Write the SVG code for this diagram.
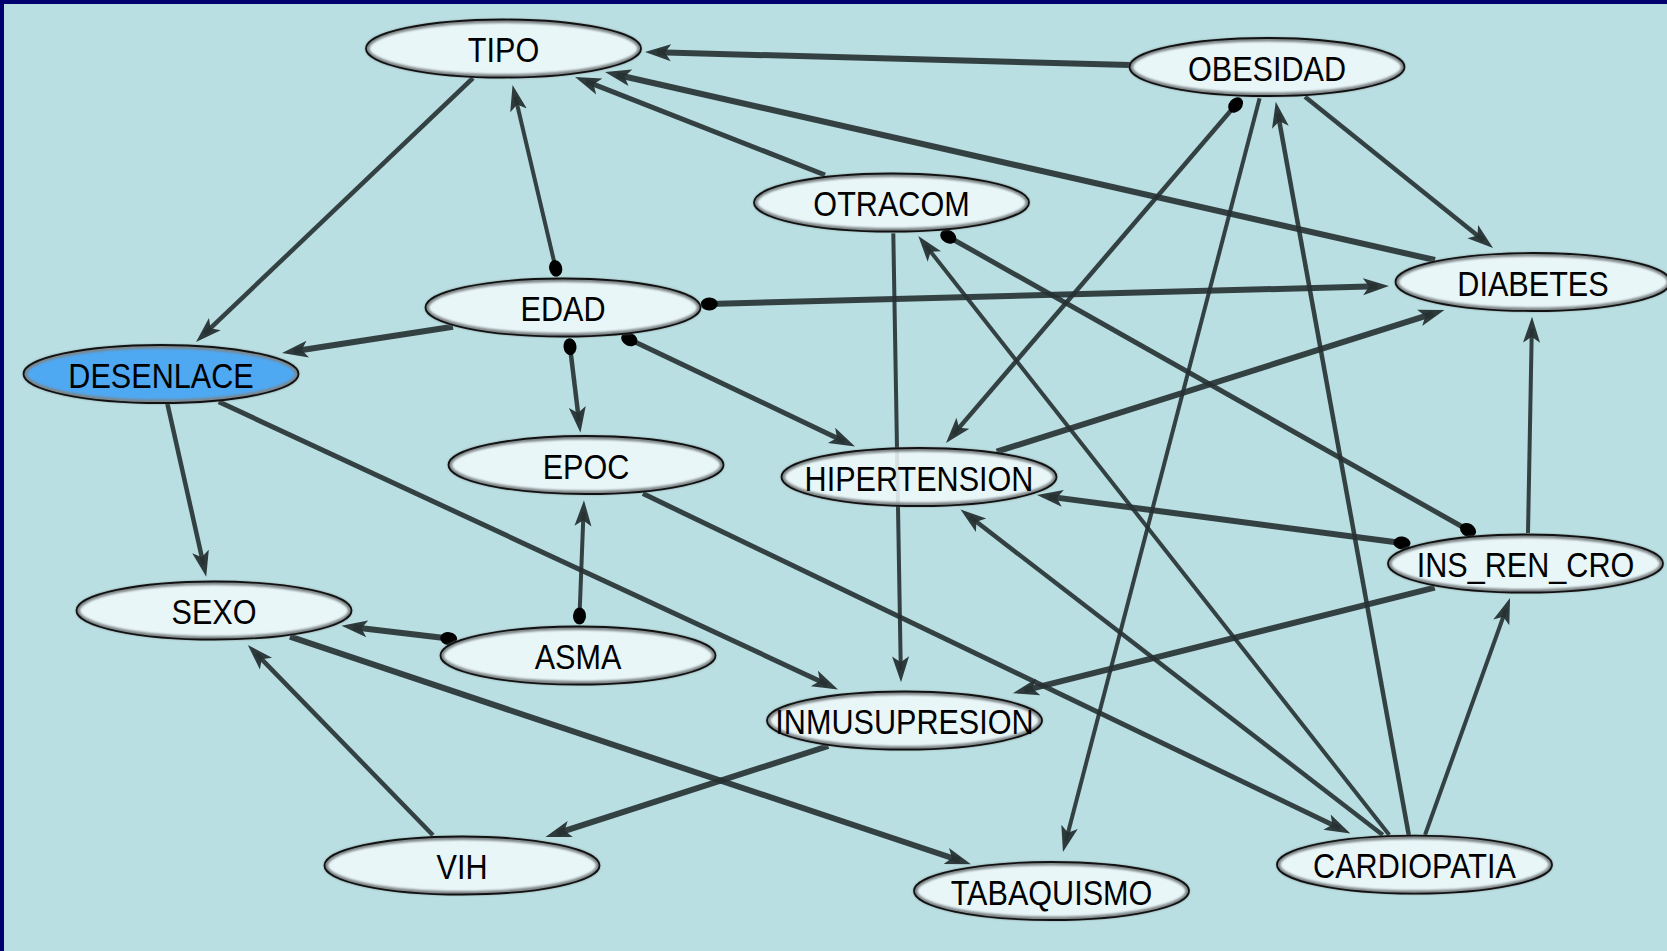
<svg xmlns="http://www.w3.org/2000/svg" width="1667" height="951" viewBox="0 0 1667 951">
  <defs>
    <style>
      .edge { fill: none; stroke: #263032; stroke-opacity: 0.9; }
      .w4 { stroke-width: 4; }
      .w45 { stroke-width: 4.5; }
      .w5 { stroke-width: 5; }
      .w6 { stroke-width: 6; }
      .arr { marker-end: url(#arrow); }
      .tdot { marker-start: url(#dot); }
      .hdot { marker-end: url(#dot); }
      .body { fill: #f1f9fb; fill-opacity: 0.86; }
      .body.out { fill: #4ea8f2; fill-opacity: 1; }
      .ring { fill: none; stroke: #7d8486; stroke-width: 4; filter: url(#soft); }
      .rim { fill: none; stroke: #111; stroke-width: 1.8; }
      text { font-family: "Liberation Sans", Arial, sans-serif; font-size: 36px; text-anchor: middle; fill: #000; }
    </style>
    <filter id="soft" x="-10%" y="-30%" width="120%" height="160%">
      <feGaussianBlur stdDeviation="1.3"/>
    </filter>
    <marker id="arrow" markerUnits="userSpaceOnUse" markerWidth="30" markerHeight="20" viewBox="0 -10 30 20" refX="14" refY="0" orient="auto">
      <path d="M26,0 L0,-8.5 L6,0 L0,8.5 Z" fill="#263032" fill-opacity="0.95"/>
    </marker>
    <marker id="dot" markerUnits="userSpaceOnUse" markerWidth="20" markerHeight="16" viewBox="-10 -8 20 16" refX="0" refY="0" orient="auto">
      <ellipse rx="8.5" ry="6.5" fill="#000"/>
    </marker>
  </defs>

  <!-- canvas -->
  <rect x="0" y="0" width="1667" height="951" fill="#b9dfe2"/>
  <rect x="0" y="0" width="1667" height="4" fill="#00006e"/>
  <rect x="0" y="0" width="4" height="951" fill="#00006e"/>

  <g id="edges">
    <path class="edge w6 arr" d="M1130,65 L657,52.3"/>
    <path class="edge w6 arr" d="M1435,260 L616.7,74.7"/>
    <path class="edge w5 arr" d="M825,175 L586.2,81.4"/>
    <path class="edge w45 arr" d="M473,78 L204.7,333.7"/>
    <path class="edge w4 tdot arr" d="M555.7,268.3 L515.3,96.7"/>
    <path class="edge w6 arr" d="M453,326.7 L293.9,351.2"/>
    <path class="edge w6 tdot arr" d="M709.3,304 L1377,286.3"/>
    <path class="edge w45 tdot arr" d="M570,346.7 L579,420.9"/>
    <path class="edge w5 tdot arr" d="M629.3,339.3 L844.2,441.4"/>
    <path class="edge w45 arr" d="M1305,96.7 L1483.7,240.5"/>
    <path class="edge w45 tdot arr" d="M1235.6,105 L953.8,433.9"/>
    <path class="edge w4 arr" d="M1259.6,98.3 L1066,840.4"/>
    <path class="edge w45 arr" d="M1408.8,835.2 L1277.9,113.5"/>
    <path class="edge w4 arr" d="M893.3,233.3 L900.8,670.3"/>
    <path class="edge w4 arr" d="M1389.3,835 L925.7,245.4"/>
    <path class="edge w5 tdot hdot" d="M948.3,236.7 L1468,530"/>
    <path class="edge w6 tdot arr" d="M1402,543 L1048.9,496.6"/>
    <path class="edge w6 arr" d="M996.7,451.7 L1433,313.6"/>
    <path class="edge w4 arr" d="M1528,533 L1531.8,328.7"/>
    <path class="edge w4 arr" d="M1425,835 L1506,609.3"/>
    <path class="edge w6 arr" d="M1434.7,587.6 L1024.6,690.3"/>
    <path class="edge w45 arr" d="M1382.8,835 L970,516.8"/>
    <path class="edge w5 arr" d="M642.9,493.6 L1339.6,828.2"/>
    <path class="edge w5 arr" d="M218.75,401.8 L827.1,684.4"/>
    <path class="edge w45 arr" d="M167.4,403.7 L203.6,565"/>
    <path class="edge w4 tdot arr" d="M579.5,616 L583.5,512.2"/>
    <path class="edge w6 tdot arr" d="M448.7,638.6 L353.4,627.2"/>
    <path class="edge w6 arr" d="M290,636.7 L959.6,860.5"/>
    <path class="edge w45 arr" d="M433,835.2 L256.2,653.6"/>
    <path class="edge w6 arr" d="M828.3,746 L556.9,833.3"/>
  </g>

  <g id="node-tipo">
    <ellipse class="body" cx="503.5" cy="48.5" rx="137.5" ry="29"/>
    <ellipse class="ring" cx="503.5" cy="48.5" rx="136" ry="27.5"/>
    <ellipse class="rim" cx="503.5" cy="48.5" rx="137.5" ry="29"/>
    <text transform="translate(503.5,62) scale(0.85,1)">TIPO</text>
  </g>
  <g id="node-obesidad">
    <ellipse class="body" cx="1267" cy="67" rx="137.5" ry="29"/>
    <ellipse class="ring" cx="1267" cy="67" rx="136" ry="27.5"/>
    <ellipse class="rim" cx="1267" cy="67" rx="137.5" ry="29"/>
    <text transform="translate(1267,80.5) scale(0.85,1)">OBESIDAD</text>
  </g>
  <g id="node-otracom">
    <ellipse class="body" cx="891.5" cy="202.5" rx="137.5" ry="29"/>
    <ellipse class="ring" cx="891.5" cy="202.5" rx="136" ry="27.5"/>
    <ellipse class="rim" cx="891.5" cy="202.5" rx="137.5" ry="29"/>
    <text transform="translate(891.5,216) scale(0.85,1)">OTRACOM</text>
  </g>
  <g id="node-diabetes">
    <ellipse class="body" cx="1533" cy="282" rx="137.5" ry="29"/>
    <ellipse class="ring" cx="1533" cy="282" rx="136" ry="27.5"/>
    <ellipse class="rim" cx="1533" cy="282" rx="137.5" ry="29"/>
    <text transform="translate(1533,295.5) scale(0.85,1)">DIABETES</text>
  </g>
  <g id="node-edad">
    <ellipse class="body" cx="563" cy="307.5" rx="137.5" ry="29"/>
    <ellipse class="ring" cx="563" cy="307.5" rx="136" ry="27.5"/>
    <ellipse class="rim" cx="563" cy="307.5" rx="137.5" ry="29"/>
    <text transform="translate(563,321) scale(0.85,1)">EDAD</text>
  </g>
  <g id="node-desenlace">
    <ellipse class="body out" cx="161" cy="374" rx="137.5" ry="29"/>
    <ellipse class="ring" cx="161" cy="374" rx="136" ry="27.5"/>
    <ellipse class="rim" cx="161" cy="374" rx="137.5" ry="29"/>
    <text transform="translate(161,387.5) scale(0.85,1)">DESENLACE</text>
  </g>
  <g id="node-epoc">
    <ellipse class="body" cx="586" cy="465" rx="137.5" ry="29"/>
    <ellipse class="ring" cx="586" cy="465" rx="136" ry="27.5"/>
    <ellipse class="rim" cx="586" cy="465" rx="137.5" ry="29"/>
    <text transform="translate(586,478.5) scale(0.85,1)">EPOC</text>
  </g>
  <g id="node-hipertension">
    <ellipse class="body" cx="919" cy="477" rx="137.5" ry="29"/>
    <ellipse class="ring" cx="919" cy="477" rx="136" ry="27.5"/>
    <ellipse class="rim" cx="919" cy="477" rx="137.5" ry="29"/>
    <text transform="translate(919,490.5) scale(0.85,1)">HIPERTENSION</text>
  </g>
  <g id="node-ins-ren-cro">
    <ellipse class="body" cx="1525.5" cy="563.5" rx="137.5" ry="29"/>
    <ellipse class="ring" cx="1525.5" cy="563.5" rx="136" ry="27.5"/>
    <ellipse class="rim" cx="1525.5" cy="563.5" rx="137.5" ry="29"/>
    <text transform="translate(1525.5,577) scale(0.85,1)">INS_REN_CRO</text>
  </g>
  <g id="node-sexo">
    <ellipse class="body" cx="214" cy="610.5" rx="137.5" ry="29"/>
    <ellipse class="ring" cx="214" cy="610.5" rx="136" ry="27.5"/>
    <ellipse class="rim" cx="214" cy="610.5" rx="137.5" ry="29"/>
    <text transform="translate(214,624) scale(0.85,1)">SEXO</text>
  </g>
  <g id="node-asma">
    <ellipse class="body" cx="578" cy="655.5" rx="137.5" ry="29"/>
    <ellipse class="ring" cx="578" cy="655.5" rx="136" ry="27.5"/>
    <ellipse class="rim" cx="578" cy="655.5" rx="137.5" ry="29"/>
    <text transform="translate(578,669) scale(0.85,1)">ASMA</text>
  </g>
  <g id="node-inmusupresion">
    <ellipse class="body" cx="904.5" cy="720.5" rx="137.5" ry="29"/>
    <ellipse class="ring" cx="904.5" cy="720.5" rx="136" ry="27.5"/>
    <ellipse class="rim" cx="904.5" cy="720.5" rx="137.5" ry="29"/>
    <text transform="translate(904.5,734) scale(0.85,1)">INMUSUPRESION</text>
  </g>
  <g id="node-vih">
    <ellipse class="body" cx="462" cy="865.5" rx="137.5" ry="29"/>
    <ellipse class="ring" cx="462" cy="865.5" rx="136" ry="27.5"/>
    <ellipse class="rim" cx="462" cy="865.5" rx="137.5" ry="29"/>
    <text transform="translate(462,879) scale(0.85,1)">VIH</text>
  </g>
  <g id="node-tabaquismo">
    <ellipse class="body" cx="1051.5" cy="891" rx="137.5" ry="29"/>
    <ellipse class="ring" cx="1051.5" cy="891" rx="136" ry="27.5"/>
    <ellipse class="rim" cx="1051.5" cy="891" rx="137.5" ry="29"/>
    <text transform="translate(1051.5,904.5) scale(0.85,1)">TABAQUISMO</text>
  </g>
  <g id="node-cardiopatia">
    <ellipse class="body" cx="1414.5" cy="864.7" rx="137.5" ry="29"/>
    <ellipse class="ring" cx="1414.5" cy="864.7" rx="136" ry="27.5"/>
    <ellipse class="rim" cx="1414.5" cy="864.7" rx="137.5" ry="29"/>
    <text transform="translate(1414.5,878.2) scale(0.85,1)">CARDIOPATIA</text>
  </g>
</svg>
